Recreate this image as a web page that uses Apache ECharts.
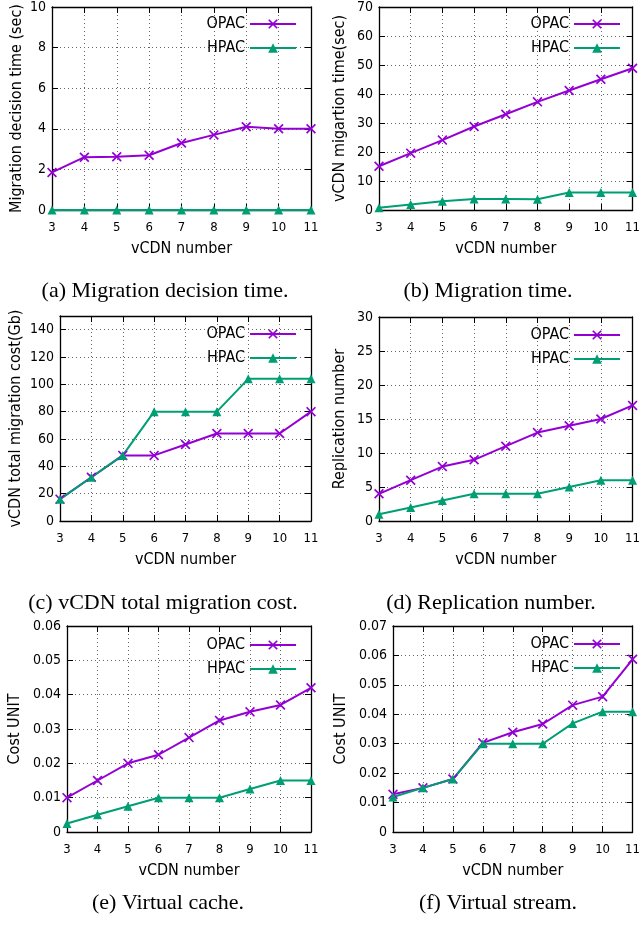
<!DOCTYPE html>
<html>
<head>
<meta charset="utf-8">
<script src="https://cdn.jsdelivr.net/npm/echarts@6/dist/echarts.min.js"></script>
<style>html,body{margin:0;padding:0;background:#fff;}#c{width:643px;height:926px;}</style>
</head>
<body>
<div id="c"></div>
<script>
const xValues = [3,4,5,6,7,8,9,10,11];
const aOPAC = [1.85,2.6,2.62,2.7,3.3,3.7,4.1,4.0,4.0];
const aHPAC = [0,0,0,0,0,0,0,0,0];
const bOPAC = [15.1,19.6,24.1,28.8,33.0,37.3,41.2,45.1,48.9];
const bHPAC = [0.8,1.9,3.0,3.8,3.8,3.7,6.0,6.0,6.0];
const cOPAC = [16,32,48,48,56,64,64,64,80];
const cHPAC = [16,32,48,80,80,80,104,104,104];
const dOPAC = [4,6,8,9,11,13,14,15,17];
const dHPAC = [1,2,3,4,4,4,5,6,6];
const eOPAC = [0.01,0.015,0.02,0.0225,0.0275,0.0325,0.035,0.037,0.042];
const eHPAC = [0.0025,0.005,0.0075,0.01,0.01,0.01,0.0125,0.015,0.015];
const fOPAC = [0.0128,0.015,0.018,0.0303,0.0339,0.0367,0.0431,0.046,0.0587];
const fHPAC = [0.0119,0.015,0.018,0.030,0.030,0.030,0.0369,0.0409,0.0409];

const yNames = ['Migration decision time (sec)','vCDN migartion time(sec)','vCDN total migration cost(Gb)','Replication number','Cost UNIT','Cost UNIT'];
const captions = ['(a) Migration decision time.','(b) Migration time.','(c) vCDN total migration cost.','(d) Replication number.','(e) Virtual cache.','(f) Virtual stream.'];
const xName = 'vCDN number';
const yMax = [10,70,150,30,0.06,0.07];
const yStep = [2,10,20,5,0.01,0.01];
const seriesNames = ['OPAC','HPAC'];

const panels = [
  {o:aOPAC,h:aHPAC, g:{left:52,top:5,width:259,height:205}, gap:27, cap:[165,291], leg:[16]},
  {o:bOPAC,h:bHPAC, g:{left:379,top:5,width:256,height:205}, gap:31, cap:[488,291], leg:[16]},
  {o:cOPAC,h:cHPAC, g:{left:60,top:316,width:251,height:205}, gap:36, cap:[163,603], leg:[326]},
  {o:dOPAC,h:dHPAC, g:{left:379,top:317,width:256,height:204}, gap:31, cap:[491,603], leg:[327]},
  {o:eOPAC,h:eHPAC, g:{left:67,top:626,width:244,height:206}, gap:44, cap:[168,903], leg:[637]},
  {o:fOPAC,h:fHPAC, g:{left:393,top:626,width:242,height:206}, gap:44, cap:[498,903], leg:[636]}
];

const PURPLE = '#9400d3';
const GREEN = '#009e73';
const FONT = "'Liberation Sans Narrow','DejaVu Sans Condensed','Liberation Sans',sans-serif";
const XSYM = 'path://M0,1.2L1.2,0L5,3.8L8.8,0L10,1.2L6.2,5L10,8.8L8.8,10L5,6.2L1.2,10L0,8.8L3.8,5Z';

const grid = [], xAxis = [], yAxis = [], series = [], legend = [], graphic = [];
const split = {show:true, lineStyle:{color:'#666', type:[1,3], width:1}};
panels.forEach((p,i)=>{
  grid.push(Object.assign({containLabel:false}, p.g));
  const baseX = {type:'value', gridIndex:i, min:3, max:11, interval:1};
  xAxis.push(Object.assign({}, baseX, {position:'bottom', name:xName, nameLocation:'middle', nameGap:31,
    nameTextStyle:{fontFamily:FONT, fontSize:16, color:'#000'},
    axisLine:{show:true, onZero:false, lineStyle:{color:'#000', width:1.3}},
    axisTick:{show:true, inside:true, length:6, lineStyle:{color:'#000'}},
    axisLabel:{color:'#000', fontFamily:FONT, fontSize:13, margin:11},
    splitLine:split}));
  xAxis.push(Object.assign({}, baseX, {position:'top',
    axisLine:{show:true, onZero:false, lineStyle:{color:'#000', width:1.3}},
    axisTick:{show:true, inside:true, length:6, lineStyle:{color:'#000'}},
    axisLabel:{show:false}, splitLine:{show:false}}));
  const baseY = {type:'value', gridIndex:i, min:0, max:yMax[i], interval:yStep[i]};
  yAxis.push(Object.assign({}, baseY, {position:'left', name:yNames[i], nameLocation:'middle', nameGap:p.gap,
    nameTextStyle:{fontFamily:FONT, fontSize:16, color:'#000'},
    axisLine:{show:true, onZero:false, lineStyle:{color:'#000', width:1.3}},
    axisTick:{show:true, inside:true, length:6, lineStyle:{color:'#000'}},
    axisLabel:{color:'#000', fontFamily:FONT, fontSize:14, margin:6, showMaxLabel: i!==2},
    splitLine:split}));
  yAxis.push(Object.assign({}, baseY, {position:'right',
    axisLine:{show:true, onZero:false, lineStyle:{color:'#000', width:1.3}},
    axisTick:{show:true, inside:true, length:6, lineStyle:{color:'#000'}},
    axisLabel:{show:false}, splitLine:{show:false}}));
  const mk = (name, vals, color, sym, size) => ({
    name, type:'line', xAxisIndex:2*i, yAxisIndex:2*i,
    data: xValues.map((x,k)=>[x, vals[k]]),
    symbol:sym, symbolSize:size, showSymbol:true,
    lineStyle:{color, width:2}, itemStyle:{color, borderColor:color, borderWidth:0},
    animation:false, clip:false
  });
  series.push(mk(seriesNames[0], p.o, PURPLE, XSYM, 10));
  series.push(mk(seriesNames[1], p.h, GREEN, 'triangle', 9));
  const right = 643 - (p.g.left + p.g.width - 14);
  legend.push({data:seriesNames, orient:'vertical', right:right, top:p.leg[0], align:'right',
    itemWidth:46, itemHeight:12, itemGap:8, selectedMode:false,
    textStyle:{fontFamily:FONT, fontSize:16, color:'#000', padding:[0,0,0,0]}, padding:0});
  graphic.push({type:'text', x:p.cap[0], y:p.cap[1],
    style:{text:captions[i], fill:'#000', font:"22px 'Liberation Serif','DejaVu Serif',serif", textAlign:'center', textVerticalAlign:'middle'}});
});

const chart = echarts.init(document.getElementById('c'), null, {renderer:'canvas'});
chart.setOption({backgroundColor:'#fff', animation:false, grid, xAxis, yAxis, series, legend, graphic});
</script>
</body>
</html>
